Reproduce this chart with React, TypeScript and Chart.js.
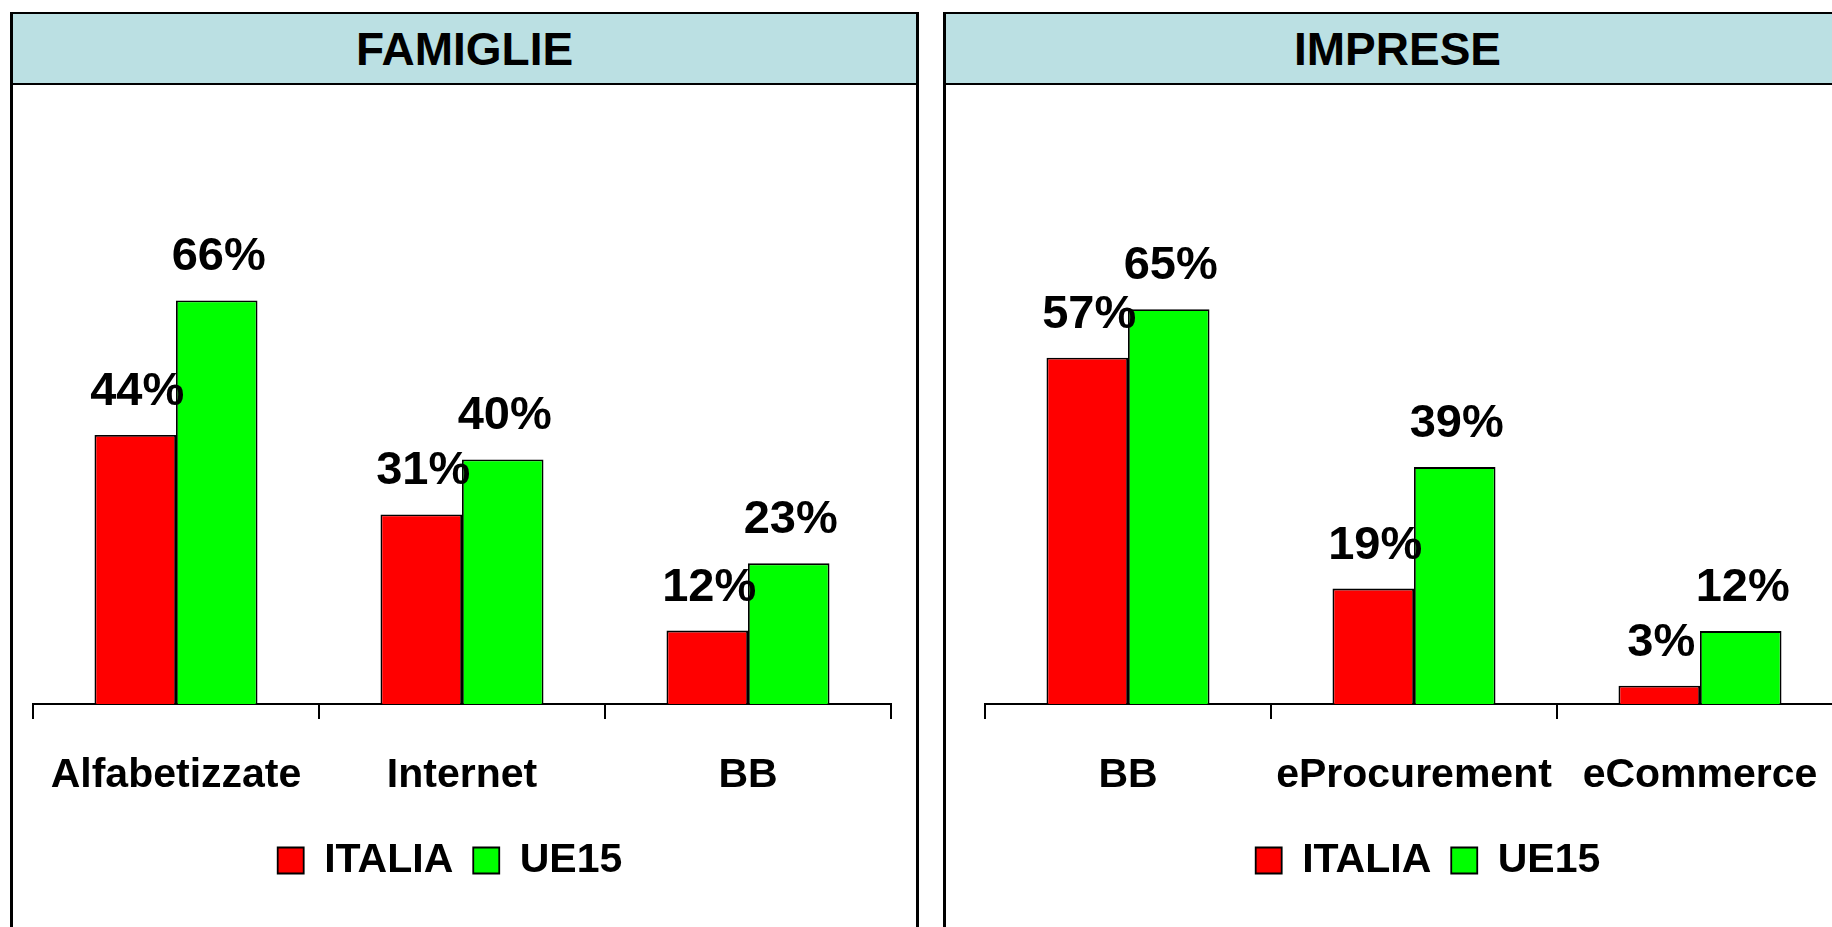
import React, { useEffect, useRef } from "react";
import { Chart, registerables } from "chart.js";

Chart.register(...registerables);

// ---- data ----
const famiglieCategories = ["Alfabetizzate", "Internet", "BB"];
const famiglieItalia = [44, 31, 12];
const famiglieUe15 = [66, 40, 23];

const impreseCategories = ["BB", "eProcurement", "eCommerce"];
const impreseItalia = [57, 19, 3];
const impreseUe15 = [65, 39, 12];

const seriesLabels = ["ITALIA", "UE15"];
const panelTitles = ["FAMIGLIE", "IMPRESE"];

const FONT = '"Liberation Sans", Arial, Helvetica, sans-serif';
const RED = "#FF0000";
const GREEN = "#00FF00";

const valueLabels = {
  id: "valueLabels",
  afterDatasetsDraw(chart: any) {
    const ctx = chart.ctx;
    ctx.save();
    ctx.font = `bold 47px ${FONT}`;
    ctx.fillStyle = "#000";
    ctx.textAlign = "center";
    ctx.textBaseline = "alphabetic";
    chart.data.datasets.forEach((ds: any, i: number) => {
      const meta = chart.getDatasetMeta(i);
      meta.data.forEach((bar: any, j: number) => {
        ctx.fillText(`${ds.data[j]}%`, bar.x + 2, bar.y - 30);
      });
    });
    ctx.restore();
  },
};

// nudges the legend horizontally without touching the chart area
const legendShift = {
  id: "legendShift",
  afterLayout(chart: any, _args: any, opts: any) {
    const lg = chart.legend;
    if (!lg || !opts || !opts.dx) return;
    lg.left += opts.dx;
    lg.right += opts.dx;
  },
};

function BarPanel(props: {
  categories: string[];
  italia: number[];
  ue15: number[];
  width: number;
  height: number;
  padLeft: number;
  padRight: number;
  padTop: number;
  legendDx: number;
}) {
  const ref = useRef<HTMLCanvasElement | null>(null);
  useEffect(() => {
    if (!ref.current) return;
    const chart = new Chart(ref.current, {
      type: "bar",
      data: {
        labels: props.categories,
        datasets: [
          {
            label: seriesLabels[0],
            data: props.italia,
            backgroundColor: RED,
            borderColor: "#000",
            borderWidth: 1.8,
            categoryPercentage: 0.57,
            barPercentage: 1.0,
          },
          {
            label: seriesLabels[1],
            data: props.ue15,
            backgroundColor: GREEN,
            borderColor: "#000",
            borderWidth: 1.8,
            categoryPercentage: 0.57,
            barPercentage: 1.0,
          },
        ],
      },
      options: {
        responsive: false,
        animation: false,
        devicePixelRatio: 1,
        layout: {
          padding: { left: props.padLeft, right: props.padRight, top: props.padTop, bottom: 36 },
        },
        scales: {
          x: {
            grid: {
              display: true,
              drawOnChartArea: false,
              drawTicks: true,
              tickLength: 15,
              color: "#000",
              lineWidth: 2,
              offset: true,
            },
            border: { display: true, color: "#000", width: 2 },
            ticks: {
              color: "#000",
              padding: 32,
              font: { family: FONT, size: 41, weight: "bold" },
              maxRotation: 0,
              autoSkip: false,
            },
            afterFit: (scale: any) => {
              scale.height = 116;
            },
          },
          y: {
            display: false,
            min: 0,
            max: 100,
          },
        },
        plugins: {
          legend: {
            display: true,
            position: "bottom",
            labels: {
              color: "#000",
              font: { family: FONT, size: 41, weight: "bold" },
              boxWidth: 26,
              boxHeight: 26,
              padding: 20,
            },
          },
          legendShift: { dx: props.legendDx },
          tooltip: { enabled: false },
          title: { display: false },
        },
      },
      plugins: [valueLabels, legendShift],
    } as any);
    return () => chart.destroy();
  }, []);
  return <canvas ref={ref} width={props.width} height={props.height} style={{ display: "block" }} />;
}

const panelStyle = (left: number): React.CSSProperties => ({
  position: "absolute",
  left,
  top: 12,
  width: 909,
  height: 940,
  boxSizing: "border-box",
  borderLeft: "3px solid #000",
  borderRight: "3px solid #000",
  borderTop: "2px solid #000",
  background: "#fff",
});

const headerStyle: React.CSSProperties = {
  height: 69,
  background: "#BBE0E3",
  borderBottom: "2px solid #000",
  display: "flex",
  alignItems: "center",
  justifyContent: "center",
  fontFamily: FONT,
  fontWeight: "bold",
  fontSize: 46,
  color: "#000",
};

export default function App() {
  return (
    <div
      style={{
        position: "fixed",
        left: 0,
        top: 0,
        width: 1832,
        height: 927,
        overflow: "hidden",
        background: "#fff",
      }}
    >
      <div style={panelStyle(10)}>
        <div style={headerStyle}>{panelTitles[0]}</div>
      </div>
      <div style={panelStyle(943)}>
        <div style={headerStyle}>{panelTitles[1]}</div>
      </div>
      <div style={{ position: "absolute", left: 13, top: 86 }}>
        <BarPanel
          categories={famiglieCategories}
          italia={famiglieItalia}
          ue15={famiglieUe15}
          width={900}
          height={841}
          padLeft={20}
          padRight={22}
          padTop={6.5}
          legendDx={-12}
        />
      </div>
      <div style={{ position: "absolute", left: 946, top: 86 }}>
        <BarPanel
          categories={impreseCategories}
          italia={impreseItalia}
          ue15={impreseUe15}
          width={926}
          height={841}
          padLeft={39}
          padRight={29}
          padTop={10.5}
          legendDx={14}
        />
      </div>
    </div>
  );
}
